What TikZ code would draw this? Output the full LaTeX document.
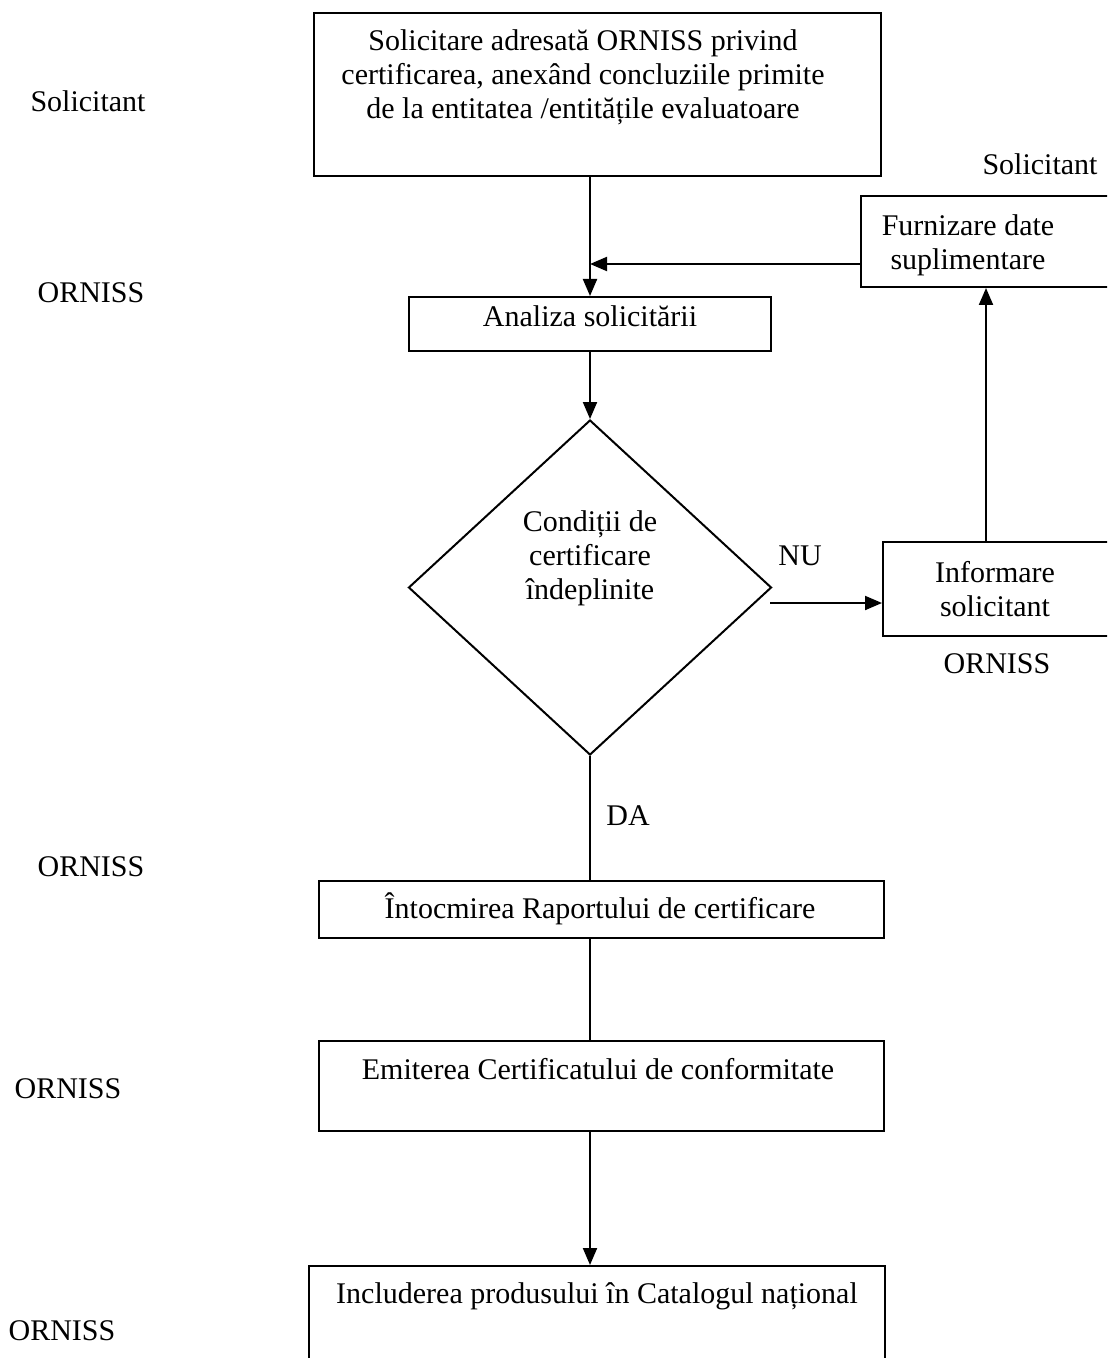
\documentclass[tikz,border=0pt]{standalone}
\usepackage{fontspec}
\setmainfont{Liberation Serif}
\usetikzlibrary{shapes.geometric,arrows.meta}
\begin{document}
\begin{tikzpicture}[x=0.5pt,y=-0.5pt,
  box/.style={draw,line width=1pt,rectangle,inner sep=0pt,anchor=north west},
  txt/.style={inner sep=0pt,align=center,font=\fontsize{15}{17}\selectfont},
  arr/.style={line width=1pt,-{Triangle[length=8.5pt,width=7pt]}},
  ln/.style={line width=1pt}]
\clip (0,0) rectangle (1107,1358);
\fill[white] (0,0) rectangle (1107,1358);
% boxes
\node[box,minimum width=283.5pt,minimum height=81.5pt] (req) at (313,12) {};
\node[box,minimum width=181pt,minimum height=27pt] (ana) at (408,296) {};
\node[draw,line width=1pt,diamond,inner sep=0pt,minimum width=181.5pt,minimum height=167.5pt] (dia) at (590,587.5) {};
\node[box,minimum width=130pt,minimum height=45.5pt] (fur) at (860,195) {};
\node[box,minimum width=120pt,minimum height=47pt] (inf) at (882,541) {};
\node[box,minimum width=282.5pt,minimum height=28.5pt] (int) at (318,880) {};
\node[box,minimum width=282.5pt,minimum height=45pt] (emi) at (318,1040) {};
\node[box,minimum width=288pt,minimum height=60pt] (inc) at (308,1265) {};
% texts
\node[txt] (treq) at (583,77) {Solicitare adresată ORNISS privind\\certificarea, anexând concluziile primite\\de la entitatea /entitățile evaluatoare};
\node[txt] (tana) at (590,316) {Analiza solicitării};
\node[txt] (tdia) at (590,558) {Condiții de\\certificare\\îndeplinite};
\node[txt] (tfur) at (968,245) {Furnizare date\\suplimentare};
\node[txt] (tinf) at (995,589) {Informare\\solicitant};
\node[txt] (tint) at (600,909) {Întocmirea Raportului de certificare};
\node[txt] (temi) at (598,1069) {Emiterea Certificatului de conformitate};
\node[txt] (tinc) at (597,1296) {Includerea produsului în Catalogul național};
% side labels
\node[txt] (l1) at (88,101) {Solicitant};
\node[txt] (l2) at (91,293) {ORNISS};
\node[txt] (l3) at (1040,164) {Solicitant};
\node[txt] (l4) at (997,664) {ORNISS};
\node[txt] (l5) at (91,867) {ORNISS};
\node[txt] (l6) at (68,1089) {ORNISS};
\node[txt] (l7) at (62,1331) {ORNISS};
\node[txt] (nu) at (800,556) {NU};
\node[txt] (da) at (628,816) {DA};
% connectors
\coordinate (m) at (590,264);
\coordinate (nuS) at (770,603);
\coordinate (up) at (986,0);
\draw[arr] (req.south -| dia.north) -- (dia.north |- ana.north);
\draw[arr] (fur.west |- m) -- (m);
\draw[arr] (dia.north |- ana.south) -- (dia.north);
\draw[arr] (nuS) -- (inf.west |- nuS);
\draw[arr] (up |- inf.north) -- (up |- fur.south);
\draw[ln] (dia.south) -- (dia.south |- int.north);
\draw[ln] (dia.south |- int.south) -- (dia.south |- emi.north);
\draw[arr] (dia.south |- emi.south) -- (dia.south |- inc.north);
\end{tikzpicture}
\end{document}
